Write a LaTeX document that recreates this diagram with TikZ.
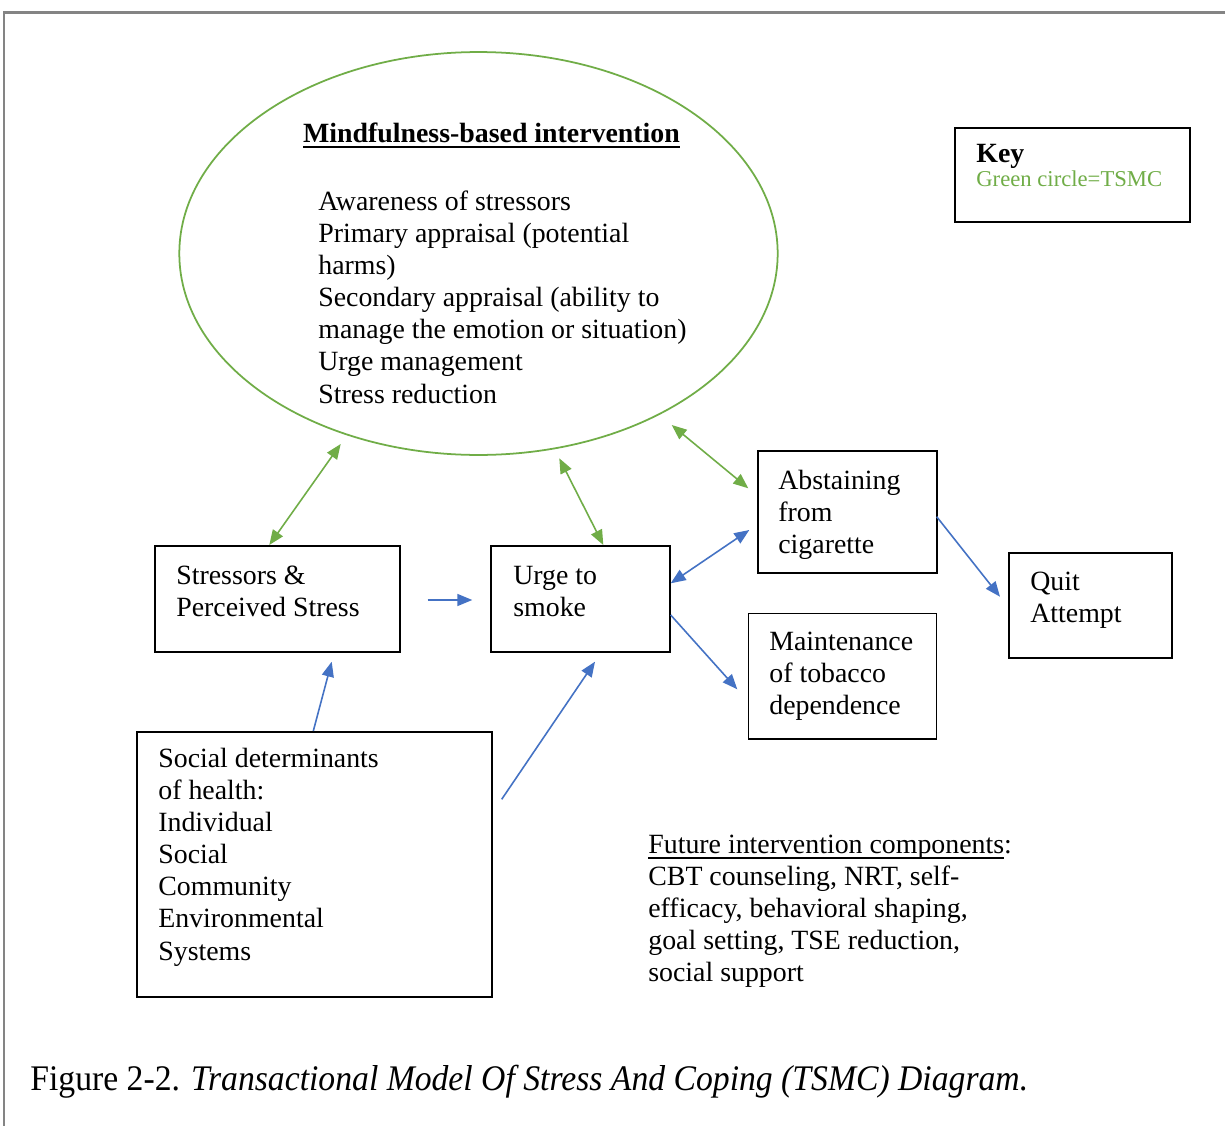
\documentclass[tikz,border=0pt]{standalone}
\usepackage{fontspec}
\usepackage{graphicx}
\setmainfont{Liberation Serif}
\usetikzlibrary{arrows.meta,shapes.geometric}

\definecolor{tsmcgreen}{HTML}{70AD47}
\definecolor{linkblue}{HTML}{4472C4}
\definecolor{framegray}{HTML}{848484}

% underline drawn at a fixed depth, crossing descenders
\newsavebox\ulinebox
\newcommand\ulined[1]{\sbox\ulinebox{#1}\rlap{\rule[-0.115cm]{\wd\ulinebox}{0.035cm}}\usebox\ulinebox}
\newcommand\bodyfont{\fontsize{15.85pt}{18.3pt}\selectfont}
\newcommand\keyfont{\fontsize{12.9pt}{13.9pt}\selectfont}

\begin{document}
\begin{tikzpicture}[x=0.02cm,y=-0.02cm,
  box/.style={draw=black, line width=1.1pt, rectangle, inner sep=0pt},
  % multi-line texts are placed by the baseline of their last line
  txt/.style={anchor=base west, align=left, inner sep=0pt, font=\bodyfont},
  greenlink/.style={draw=tsmcgreen, line width=0.9pt,
    {Triangle[length=0.3cm,width=0.24cm]}-{Triangle[length=0.3cm,width=0.24cm]}},
  bluelink/.style={draw=linkblue, line width=0.9pt,
    -{Triangle[length=0.3cm,width=0.24cm]}},
  bluetwoway/.style={draw=linkblue, line width=0.9pt,
    {Triangle[length=0.3cm,width=0.24cm]}-{Triangle[length=0.3cm,width=0.24cm]}},
]
\useasboundingbox (0,0) rectangle (1225,1126);
\fill[white] (0,0) rectangle (1225,1126);

% page frame (top and left rules)
\draw[framegray, line width=1.7pt] (4,1126) -- (4,12.5) -- (1225,12.5);

% TSMC ellipse
\node[ellipse, draw=tsmcgreen, line width=1pt, inner sep=0pt,
      minimum width=11.97cm, minimum height=8.06cm] (mbi) at (478.5,253.5) {};
\node[anchor=base, inner sep=0pt, font=\bodyfont\bfseries] (mbititle) at (491.5,142)
  {\ulined{Mindfulness-based intervention}};
\node[txt] (mbitext) at (318,403)
  {Awareness of stressors\\Primary appraisal (potential\\harms)\\Secondary appraisal (ability to\\manage the emotion or situation)\\Urge management\\Stress reduction};

% key
\node[box, minimum width=4.7cm, minimum height=1.88cm] (key) at (1072.5,175) {};
\node[anchor=base west, inner sep=0pt, font=\bodyfont\bfseries] (keytitle) at (976,162) {Key};
\node[anchor=base west, inner sep=0pt, font=\keyfont, text=tsmcgreen] (keyentry) at (976,186.5) {Green circle=TSMC};

% boxes
\node[box, minimum width=4.9cm, minimum height=2.12cm] (stress) at (277.5,599) {};
\node[txt] (stresstext) at (176,616.3) {Stressors \&\\Perceived Stress};

\node[box, minimum width=3.58cm, minimum height=2.12cm] (urge) at (580.5,599) {};
\node[txt] (urgetext) at (513,616.3) {Urge to\\smoke};

\node[box, minimum width=3.58cm, minimum height=2.44cm] (abst) at (847.5,512) {};
\node[txt] (absttext) at (778,553.6) {Abstaining\\from\\cigarette};

\node[box, minimum width=3.76cm, minimum height=2.51cm] (maint) at (842.5,676.25) {};
\node[txt] (mainttext) at (769,714.6) {Maintenance\\of tobacco\\dependence};

\node[box, minimum width=3.26cm, minimum height=2.1cm] (quit) at (1090.5,605.5) {};
\node[txt] (quittext) at (1030,622.3) {Quit\\Attempt};

\node[box, minimum width=7.1cm, minimum height=5.3cm] (social) at (314.5,864.5) {};
\node[txt] (socialtext) at (158,960)
  {Social determinants\\of health:\\Individual\\Social\\Community\\Environmental\\Systems};

% future components
\node[txt] (future) at (648,981.8)
  {\ulined{Future intervention components}:\\CBT counseling, NRT, self-\\efficacy, behavioral shaping,\\goal setting, TSE reduction,\\social support};

% connector end points
\coordinate (stressTop) at (269.3,545);
\coordinate (mbiLowLeft) at (340.7,444);
\coordinate (mbiLowMid) at (559.3,458.3);
\coordinate (urgeTop) at (603.3,545);
\coordinate (mbiLowRight) at (671.7,425);
\coordinate (abstLeftHigh) at (748.3,488.3);
\coordinate (abstLeftLow) at (749.3,530);
\coordinate (urgeRightHigh) at (670.7,583.3);
\coordinate (urgeRightLow) at (670.7,615);
\coordinate (maintLeft) at (737.3,689.3);
\coordinate (abstRight) at (936.7,516.7);
\coordinate (quitLeft) at (1000,596.7);
\coordinate (stressRight) at (427.5,600);
\coordinate (urgeLeft) at (472.3,600);
\coordinate (socialTop) at (313.3,731);
\coordinate (stressBottom) at (331.7,661.7);
\coordinate (socialRight) at (501.7,799.3);
\coordinate (urgeBottom) at (595,661.7);

% connectors
\draw[greenlink] (stressTop) -- (mbiLowLeft);
\draw[greenlink] (mbiLowMid) -- (urgeTop);
\draw[greenlink] (mbiLowRight) -- (abstLeftHigh);
\draw[bluetwoway] (urgeRightHigh) -- (abstLeftLow);
\draw[bluelink] (urgeRightLow) -- (maintLeft);
\draw[bluelink] (abstRight) -- (quitLeft);
\draw[bluelink] (stressRight) -- (urgeLeft);
\draw[bluelink] (socialTop) -- (stressBottom);
\draw[bluelink] (socialRight) -- (urgeBottom);

% caption
\node[anchor=base west, inner sep=0pt] (caption) at (30,1090)
  {\resizebox{19.96cm}{\height}{\fontsize{20.5pt}{24pt}\selectfont Figure 2-2. \textit{Transactional Model Of Stress And Coping (TSMC) Diagram.}}};
\end{tikzpicture}
\end{document}
